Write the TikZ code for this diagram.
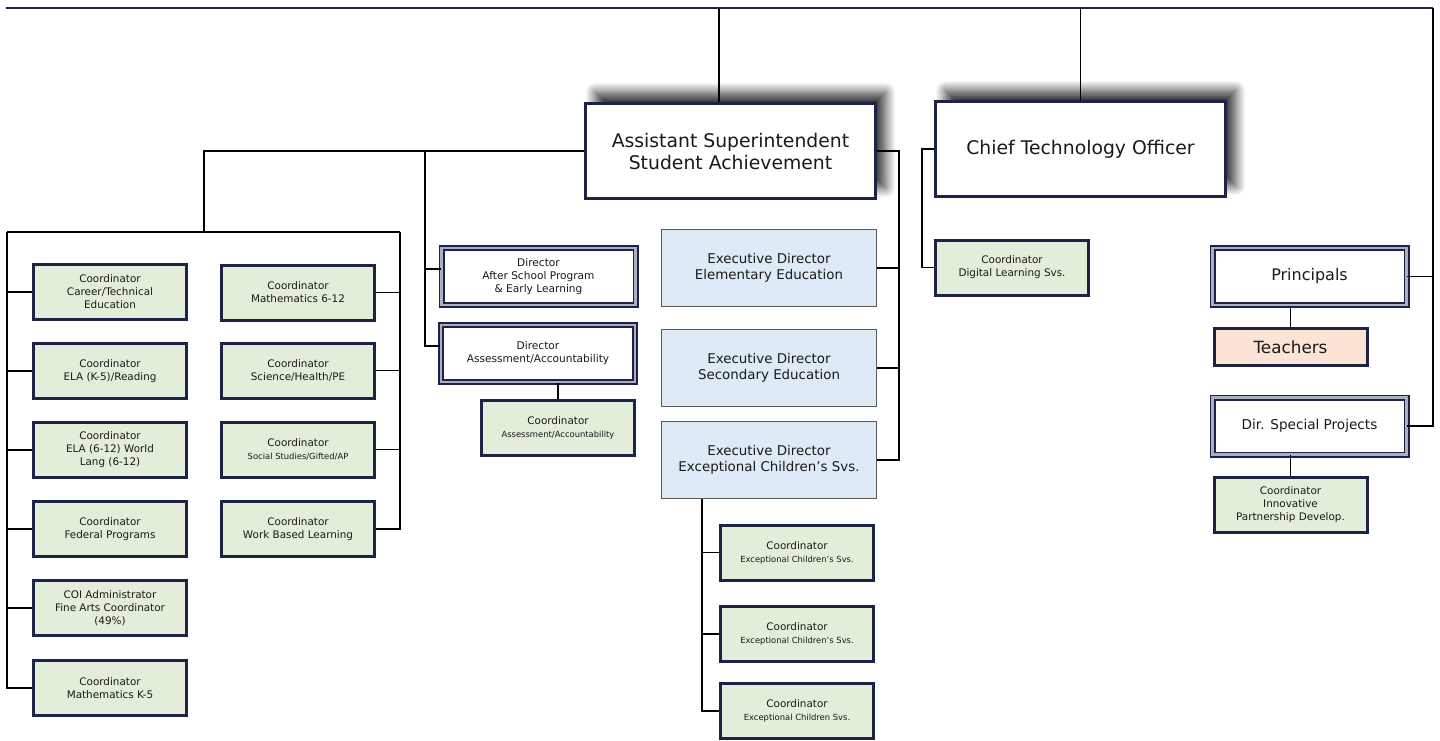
\documentclass[tikz,border=0pt]{standalone}
\usepackage{fontspec}
\setmainfont{DejaVu Sans}
\usetikzlibrary{shadows.blur}

\definecolor{navy}{HTML}{1C2346}
\definecolor{greenfill}{HTML}{E2EED9}
\definecolor{bluefill}{HTML}{DEEAF6}
\definecolor{peachfill}{HTML}{FBE3D5}
\definecolor{dblgray}{HTML}{AAB0C3}
\definecolor{execline}{HTML}{5A5A5A}
\definecolor{textcol}{HTML}{1A1A1A}

\newcommand{\subtext}[1]{{\fontsize{4.2}{5.5}\selectfont #1}}

\begin{document}
\begin{tikzpicture}[x=0.5pt, y=-0.5pt, line width=0.8pt, text=textcol]
				\tikzstyle{headbox} = [draw=navy, line width=1.3pt, fill=white, inner sep=0pt, align=center, minimum width=145pt, minimum height=47.5pt, font=\fontsize{9.4}{11}\selectfont, blur shadow={shadow xshift=5pt, shadow yshift=5.5pt, shadow blur radius=5pt, shadow blur steps=16, shadow opacity=80}]
				\tikzstyle{coordbox} = [draw=navy, line width=1.5pt, fill=greenfill, inner sep=0pt, align=center, minimum width=76.5pt, minimum height=27.5pt, font=\fontsize{5.2}{6.5}\selectfont]
				\tikzstyle{execbox} = [draw=execline, line width=0.5pt, fill=bluefill, inner sep=0pt, align=center, minimum width=107.5pt, minimum height=38.5pt, font=\fontsize{6.7}{8}\selectfont]
				\tikzstyle{dirbox} = [draw=navy, line width=0.8pt, double=dblgray, double distance=1.4pt, fill=white, inner sep=0pt, align=center, minimum width=97pt, minimum height=28.5pt, font=\fontsize{5.3}{6.5}\selectfont]
				\tikzstyle{teachbox} = [coordbox, fill=peachfill, minimum height=18.5pt, font=\fontsize{8.4}{9}\selectfont]
				\tikzstyle{link} = [draw=black, line width=0.8pt]
				\tikzstyle{topline} = [draw=navy, line width=1.25pt]
				
				\useasboundingbox (0, 0) rectangle (1440, 740);
				
				\node[headbox] 	at (730.5, 151) 	(asst) 	{Assistant Superintendent\\Student Achievement};
				\node[headbox] 	at (1080.5, 149) 	(cto) 	{Chief Technology Officer};
				
				\node[coordbox] 	at (110, 292) 	(cCareer) 	{Coordinator\\Career/Technical\\Education};
				\node[coordbox] 	at (110, 371) 	(cElaK) 	{Coordinator\\ELA (K-5)/Reading};
				\node[coordbox] 	at (110, 450) 	(cElaW) 	{Coordinator\\ELA (6-12) World\\Lang (6-12)};
				\node[coordbox] 	at (110, 529) 	(cFed) 	{Coordinator\\Federal Programs};
				\node[coordbox] 	at (110, 608) 	(cCoi) 	{COI Administrator\\Fine Arts Coordinator\\(49\%)};
				\node[coordbox] 	at (110, 688) 	(cMathK) 	{Coordinator\\Mathematics K-5};
				
				\node[coordbox] 	at (298, 292.5) 	(cMath) 	{Coordinator\\Mathematics 6-12};
				\node[coordbox] 	at (298, 370.5) 	(cSci) 	{Coordinator\\Science/Health/PE};
				\node[coordbox] 	at (298, 449.5) 	(cSoc) 	{Coordinator\\\subtext{Social Studies/Gifted/AP}};
				\node[coordbox] 	at (298, 529) 	(cWbl) 	{Coordinator\\Work Based Learning};
				
				\node[dirbox] 	at (538.5, 276.5) 	(dAsp) 	{Director\\After School Program\\\& Early Learning};
				\node[dirbox] 	at (538, 353.5) 	(dAssess) 	{Director\\Assessment/Accountability};
				\node[coordbox] 	at (558, 427.5) 	(cAssess) 	{Coordinator\\\subtext{Assessment/Accountability}};
				
				\node[execbox] 	at (769, 268) 	(eElem) 	{Executive Director\\Elementary Education};
				\node[execbox] 	at (769, 368) 	(eSec) 	{Executive Director\\Secondary Education};
				\node[execbox] 	at (769, 460) 	(eEc) 	{Executive Director\\Exceptional Children’s Svs.};
				
				\node[coordbox] 	at (797, 552.5) 	(cEc1) 	{Coordinator\\\subtext{Exceptional Children’s Svs.}};
				\node[coordbox] 	at (797, 634) 	(cEc2) 	{Coordinator\\\subtext{Exceptional Children’s Svs.}};
				\node[coordbox] 	at (797, 711) 	(cEc3) 	{Coordinator\\\subtext{Exceptional Children Svs.}};
				
				\node[coordbox] 	at (1012, 267.5) 	(cDigital) 	{Coordinator\\Digital Learning Svs.};
				
				\node[dirbox, font=\fontsize{8}{9}\selectfont] 	at (1309.5, 276.5) 	(principals) 	{Principals};
				\node[teachbox] 	at (1290.5, 347) 	(teachers) 	{Teachers};
				\node[dirbox, font=\fontsize{6.8}{8}\selectfont] 	at (1309.5, 426) 	(dSpecial) 	{Dir. Special Projects};
				\node[coordbox] 	at (1290.5, 504.5) 	(cInnov) 	{Coordinator\\Innovative\\Partnership Develop.};
				
				\coordinate (topL) at (6, 8);
				\coordinate (topR) at (1433, 8);
				\coordinate (asstDrop) at (719, 8);
				\coordinate (leftBus) at (204, 152);
				\coordinate (midBus) at (425, 152);
				\coordinate (execBus) at (899, 152);
				\coordinate (brL) at (7, 232);
				\coordinate (brR) at (400, 232);
				\coordinate (ctoBus) at (922, 149);
				\coordinate (ecBus) at (702, 499);
				\coordinate (aspTick) at ([yshift=3.75pt]dAsp.west);
				\coordinate (assessTick) at ([yshift=3.75pt]dAssess.west);
				
				\draw[topline] (topL) -- (topR);
				\draw[link] (topR) |- (dSpecial.east);
				\draw[link] (principals.east) -- (principals.east -| topR);
				\draw[link] (asstDrop) -- (asstDrop |- asst.north);
				\draw[link] (cto.north |- topL) -- (cto.north);
				
				\draw[link] (asst.west) -- (asst.west -| leftBus) -- (leftBus |- brL);
				\draw[link] (brL) -- (brR);
				\draw[link] (brL) |- (cMathK.west);
				\foreach \n in {cCareer, cElaK, cElaW, cFed, cCoi}
					\draw[link] (\n.west -| brL) -- (\n.west);
				\draw[link] (brR) |- (cWbl.east);
				\foreach \n in {cMath, cSci, cSoc}
					\draw[link] (\n.east) -- (\n.east -| brR);
				
				\draw[link] (asst.west -| midBus) |- (assessTick);
				\draw[link] (aspTick -| midBus) -- (aspTick);
				\draw[link] (dAssess.south -| cAssess.north) -- (cAssess.north);
				
				\draw[link] (asst.east) -- (asst.east -| execBus) |- (eEc.east);
				\foreach \n in {eElem, eSec}
					\draw[link] (\n.east) -- (\n.east -| execBus);
				\draw[link] (eEc.south -| ecBus) |- (cEc3.west);
				\foreach \n in {cEc1, cEc2}
					\draw[link] (\n.west -| ecBus) -- (\n.west);
				
				\draw[link] (cto.west) -- (cto.west -| ctoBus) |- (cDigital.west);
				\draw[link] (principals.south -| teachers.north) -- (teachers.north);
				\draw[link] (dSpecial.south -| cInnov.north) -- (cInnov.north);
\end{tikzpicture}
\end{document}
